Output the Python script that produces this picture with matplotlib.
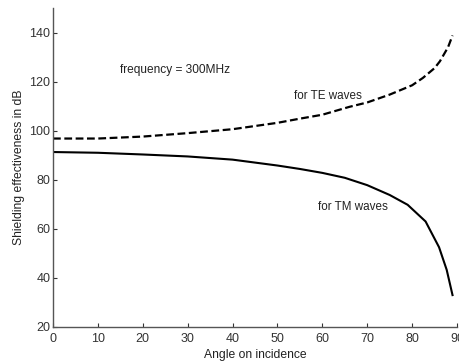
import matplotlib.pyplot as plt

plt.rcParams['font.family'] = ['Liberation Sans', 'DejaVu Sans']

# values
te_angle = [0, 10, 20, 30, 40, 50, 55, 60, 66, 70, 75, 80, 82.4, 85, 86.2, 88, 89]
te_se = [96.8, 96.8, 97.6, 99.0, 100.6, 103.2, 104.9, 106.5, 109.7, 111.5, 114.7,
         118.5, 121.5, 125.5, 128.3, 134.0, 138.8]

tm_angle = [0, 10, 20, 30, 40, 45, 50, 55, 60, 65, 70, 75, 79, 83, 86, 87.7, 89]
tm_se = [91.3, 91.0, 90.3, 89.5, 88.2, 87.0, 85.8, 84.4, 82.8, 80.8, 77.8, 73.8,
         69.8, 63.0, 52.5, 43.3, 33.0]

xticks = list(range(0, 91, 10))
yticks = list(range(20, 141, 20))

fig = plt.figure(figsize=(4.6, 3.63), dpi=100)
ax = fig.add_axes([0.1152, 0.0992, 0.8783, 0.8788])

ax.plot(te_angle, te_se, color='black', lw=1.6, linestyle=(0, (3.5, 1.6)))
ax.plot(tm_angle, tm_se, color='black', lw=1.5)

ax.text(15, 124.9, "frequency = 300MHz", fontsize=8.6, va='center', ha='left', color='#222222')
ax.text(53.7, 114.3, "for TE waves", fontsize=8.4, va='center', ha='left', color='#222222')
ax.text(59, 69, "for TM waves", fontsize=8.4, va='center', ha='left', color='#222222')

ax.set_xlim(0, 90)
ax.set_ylim(20, 150)
ax.set_xticks(xticks)
ax.set_yticks(yticks)
ax.tick_params(direction='in', length=3, width=0.8, labelsize=9, colors='#333333', pad=2)
ax.tick_params(axis='x', pad=4)
for s in ['top', 'right']:
    ax.spines[s].set_visible(False)
for s in ['left', 'bottom']:
    ax.spines[s].set_color('#555555')
    ax.spines[s].set_linewidth(1.0)

ax.set_xlabel("Angle on incidence", fontsize=8.7, color='#222222', labelpad=3)
ax.set_ylabel("Shielding effectiveness in dB", fontsize=8.7, color='#222222', labelpad=3)

fig.savefig("out.png", dpi=100)
